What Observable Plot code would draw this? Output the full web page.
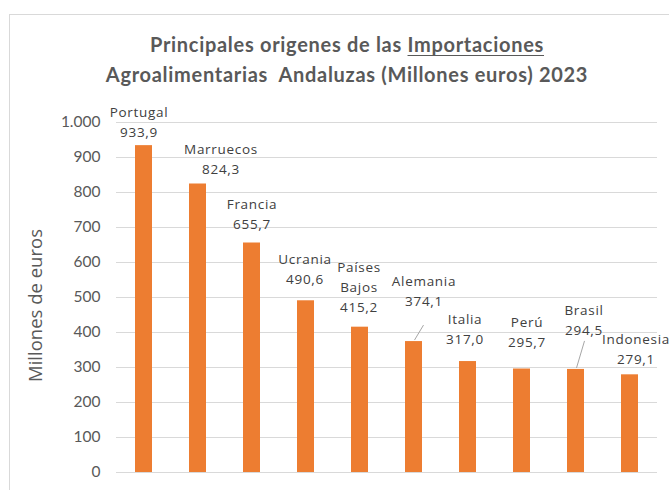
<!DOCTYPE html>
<html><head><meta charset="utf-8">
<script src="https://cdn.jsdelivr.net/npm/d3@7"></script>
<script src="https://cdn.jsdelivr.net/npm/@observablehq/plot@0.6"></script>
<style>
body{margin:0;background:#fff;width:669px;height:490px;overflow:hidden;position:relative;font-family:Lato,sans-serif}
#frame{position:absolute;left:9px;top:14px;width:690px;height:500px;border:1px solid #d9d9d9;box-sizing:border-box}
#chart{position:absolute;left:0;top:0}
#title{position:absolute;left:9px;width:676px;top:29px;text-align:center;font-weight:bold;font-size:20px;letter-spacing:0.7px;color:#595959;line-height:30px;font-family:Lato,sans-serif}
#title u{text-decoration-thickness:1px;text-underline-offset:3px}
#chart svg g[fill="#404040"] text{letter-spacing:0.7px}
</style></head><body>
<div id="frame"></div>
<div id="chart"></div>
<div id="title">Principales origenes de las <u>Importaciones</u><br>Agroalimentarias&nbsp; Andaluzas (Millones euros) 2023</div>
<script>
const countries = ["Portugal","Marruecos","Francia","Ucrania","Países Bajos","Alemania","Italia","Perú","Brasil","Indonesia"];
const labelNames = ["Portugal","Marruecos","Francia","Ucrania","Países\nBajos","Alemania","Italia","Perú","Brasil","Indonesia"];
const values = [933.9, 824.3, 655.7, 490.6, 415.2, 374.1, 317.0, 295.7, 294.5, 279.1];
const yTicks = [0,100,200,300,400,500,600,700,800,900,1000];
const yLabel = "Millones de euros";

// label placement nudges (pixels) relative to bar top centre
const labelNudge = [[-5,-25],[23,-26],[0,-30],[-1,-33],[-1,-42],[10,-52],[-3,-34],[5,-38],[8,-51],[6,-27]];
const leaderNudge = {"Alemania":[10,-16], "Brasil":[9,-28]};

const loc = d3.formatLocale({decimal: ",", thousands: ".", grouping: [3], currency: ["", "€"]});
const tickFmt = loc.format(",d");
const valFmt = loc.format(",.1f");

const rows = countries.map((c, i) => ({country: c, value: values[i], label: labelNames[i] + "\n" + valFmt(values[i])}));

function leaders(index, scales) {
  const g = d3.create("svg:g");
  for (const r of rows) {
    const n = leaderNudge[r.country];
    if (!n) continue;
    const cx = scales.x(r.country) + scales.x.bandwidth() / 2;
    const cy = scales.y(r.value);
    g.append("line").attr("x1", cx + 1).attr("y1", cy - 1).attr("x2", cx + n[0]).attr("y2", cy + n[1])
      .attr("stroke", "#a6a6a6").attr("stroke-width", 1);
  }
  return g.node();
}

const labelMarks = rows.map((r, i) => Plot.text([r], {
  x: "country", y: "value", text: "label",
  dx: labelNudge[i][0], dy: labelNudge[i][1],
  lineAnchor: "middle", lineHeight: 20 / 13.5,
  fontSize: 13.5, fill: "#404040", fontFamily: "Open Sans"
}));

const chart = Plot.plot({
  width: 669, height: 490,
  marginLeft: 116, marginRight: 12, marginTop: 122, marginBottom: 18,
  style: {fontFamily: "Lato, sans-serif", background: "transparent"},
  x: {type: "band", domain: countries, paddingInner: 0.69, paddingOuter: 0.345, axis: null},
  y: {domain: [0, 1000]},
  marks: [
    Plot.gridY(yTicks, {stroke: "#d9d9d9", strokeOpacity: 1}),
    Plot.axisY(yTicks, {tickSize: 0, tickPadding: 16, tickFormat: tickFmt, fontSize: 15.5, fill: "#595959", label: null}),
    Plot.barY(rows, {x: "country", y: "value", fill: "#ED7D31"}),
    leaders,
    ...labelMarks,
    Plot.text([yLabel], {frameAnchor: "left", textAnchor: "middle", rotate: -90, dx: -80, dy: 8, fontSize: 18.5, fill: "#595959", fontFamily: "Open Sans", text: d => d})
  ]
});
document.getElementById("chart").appendChild(chart);
</script>
</body></html>
